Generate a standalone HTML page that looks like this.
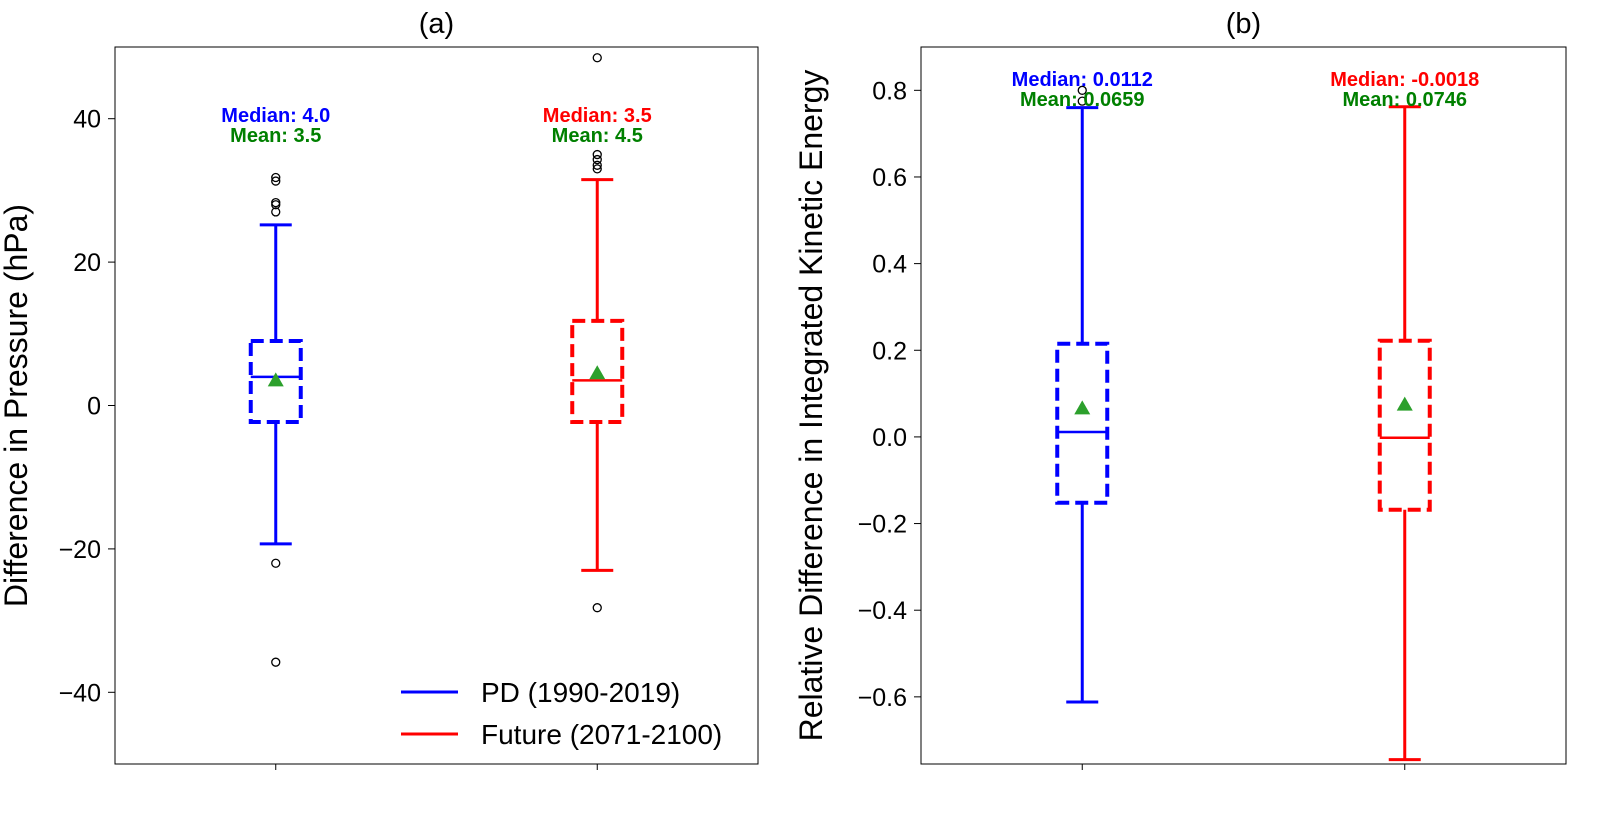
<!DOCTYPE html>
<html><head><meta charset="utf-8"><style>
body{margin:0;background:#fff;}
svg{display:block;font-family:"Liberation Sans","DejaVu Sans",sans-serif;}
</style></head><body>
<svg id="chart" width="1598" height="824" viewBox="0 0 1598 824"></svg>
<script>
// Panel (a) data
const aCategories = ["PD (1990-2019)", "Future (2071-2100)"];
const aWhiskLo = [-19.3, -23.0];
const aQ1 = [-2.3, -2.3];
const aMedian = [4.0, 3.5];
const aQ3 = [9.0, 11.8];
const aWhiskHi = [25.2, 31.5];
const aMean = [3.5, 4.5];
const aOutliers = [[31.8, 31.3, 28.3, 28.0, 27.0, -22.0, -35.8], [48.5, 35.0, 34.3, 33.5, 33.0, -28.2]];
const aTicks = [40, 20, 0, -20, -40];
const aMedLabels = ["Median: 4.0", "Median: 3.5"];
const aMeanLabels = ["Mean: 3.5", "Mean: 4.5"];
// Panel (b) data
const bWhiskLo = [-0.612, -0.745];
const bQ1 = [-0.152, -0.168];
const bMedian = [0.0112, -0.0018];
const bQ3 = [0.215, 0.222];
const bWhiskHi = [0.760, 0.762];
const bMean = [0.0659, 0.0746];
const bOutliers = [[0.775, 0.80], []];
const bTicks = [0.8, 0.6, 0.4, 0.2, 0.0, -0.2, -0.4, -0.6];
const bMedLabels = ["Median: 0.0112", "Median: -0.0018"];
const bMeanLabels = ["Mean: 0.0659", "Mean: 0.0746"];
const colors = ["#0000ff", "#ff0000"];

const svg = document.getElementById('chart');
const NS = "http://www.w3.org/2000/svg";
function mk(tag, attrs, parent, text){
  const e = document.createElementNS(NS, tag);
  for (const k in attrs) e.setAttribute(k, attrs[k]);
  if (text !== undefined) e.textContent = text;
  (parent || svg).appendChild(e);
  return e;
}

function panel(p){
  const g = mk('g', {});
  
  
  const y = v => p.top + (p.ymax - v) / (p.ymax - p.ymin) * (p.bottom - p.top);
  const xs = [p.left + (p.right - p.left) * 0.25, p.left + (p.right - p.left) * 0.75];
  const fr = mk('rect', {x:p.left, y:p.top, width:p.right-p.left, height:p.bottom-p.top, fill:'none', stroke:'#000', 'stroke-width':1}, g);
  
  
  p.ticks.forEach(t => {
    const tk = mk('line', {x1:p.left-7, x2:p.left, y1:y(t), y2:y(t), stroke:'#000', 'stroke-width':1}, g);
    
    
    const lab = t < 0 ? '\u2212' + Math.abs(t).toFixed(p.dec) : t.toFixed(p.dec);
    const tl = mk('text', {x:p.left-14, y:y(t)+9, 'text-anchor':'end', 'font-size':25}, g, lab);
    
    
  });
  xs.forEach(x => {
    const xt = mk('line', {x1:x, x2:x, y1:p.bottom, y2:p.bottom+6, stroke:'#000', 'stroke-width':1}, g);
    
    
  });
  const tt = mk('text', {x:(p.left+p.right)/2, y:p.top-14, 'text-anchor':'middle', 'font-size':29}, g, p.title);
  
  
  const yl = mk('text', {x:0, y:0, 'text-anchor':'middle', 'font-size':32, transform:`translate(${p.ylx},${(p.top+p.bottom)/2}) rotate(-90)`}, g, p.ylabel);
  
  
  const hw = 25, cw = 16;
  for (let i = 0; i < 2; i++){
    const x = xs[i], c = colors[i];
    const bg = mk('g', {}, g);
    
    
    mk('line', {x1:x, x2:x, y1:y(p.q3[i]), y2:y(p.hi[i]), stroke:c, 'stroke-width':3}, bg);
    mk('line', {x1:x, x2:x, y1:y(p.q1[i]), y2:y(p.lo[i]), stroke:c, 'stroke-width':3}, bg);
    mk('line', {x1:x-cw, x2:x+cw, y1:y(p.hi[i]), y2:y(p.hi[i]), stroke:c, 'stroke-width':3}, bg);
    mk('line', {x1:x-cw, x2:x+cw, y1:y(p.lo[i]), y2:y(p.lo[i]), stroke:c, 'stroke-width':3}, bg);
    mk('rect', {x:x-hw, y:y(p.q3[i]), width:2*hw, height:y(p.q1[i])-y(p.q3[i]), fill:'none', stroke:c, 'stroke-width':4, 'stroke-dasharray':'13,6'}, bg);
    mk('line', {x1:x-hw, x2:x+hw, y1:y(p.med[i]), y2:y(p.med[i]), stroke:c, 'stroke-width':2.5}, bg);
    const ym = y(p.mean[i]);
    const tri = mk('polygon', {points:`${x},${ym-8} ${x-8},${ym+6} ${x+8},${ym+6}`, fill:'#2ca02c'}, bg);
    
    
    p.out[i].forEach(o => {
      const ci = mk('circle', {cx:x, cy:y(o), r:4, fill:'none', stroke:'#000', 'stroke-width':1.3}, bg);
      
      
    });
    const mt = mk('text', {x:x, y:p.annY, 'text-anchor':'middle', 'font-size':20, 'font-weight':'bold', fill:c}, g, p.medL[i]);
    
    
    const nt = mk('text', {x:x, y:p.annY+20, 'text-anchor':'middle', 'font-size':20, 'font-weight':'bold', fill:'#008000'}, g, p.meanL[i]);
    
    
  }
}

panel({name:'panel-a', left:115, right:758, top:47, bottom:764, ymin:-50, ymax:50, ticks:aTicks, dec:0,
  title:'(a)', ylabel:'Difference in Pressure (hPa)', ylx:27,
  lo:aWhiskLo, q1:aQ1, med:aMedian, q3:aQ3, hi:aWhiskHi, mean:aMean, out:aOutliers,
  medL:aMedLabels, meanL:aMeanLabels, annY:122});
panel({name:'panel-b', left:921, right:1566, top:47, bottom:764, ymin:-0.755, ymax:0.9, ticks:bTicks, dec:1,
  title:'(b)', ylabel:'Relative Difference in Integrated Kinetic Energy', ylx:822,
  lo:bWhiskLo, q1:bQ1, med:bMedian, q3:bQ3, hi:bWhiskHi, mean:bMean, out:bOutliers,
  medL:bMedLabels, meanL:bMeanLabels, annY:86});

// legend
const lg = mk('g', {});


for (let i = 0; i < 2; i++){
  const ly = 692 + i * 42;
  const e = mk('g', {}, lg);
  
  
  mk('line', {x1:401, x2:458, y1:ly, y2:ly, stroke:colors[i], 'stroke-width':3}, e);
  mk('text', {x:481, y:ly+10, 'font-size':28}, e, aCategories[i]);
}
</script>
</body></html>
